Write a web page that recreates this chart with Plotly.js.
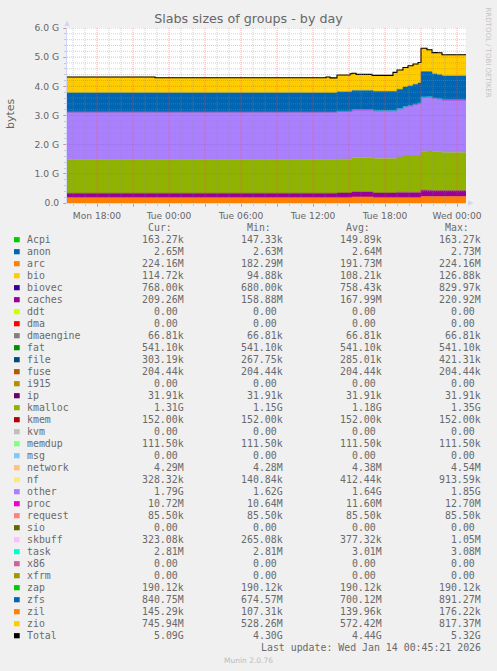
<!DOCTYPE html>
<html>
<head>
<meta charset="utf-8">
<script src="https://cdn.plot.ly/plotly-3.0.1.min.js"></script>
<style>
html,body{margin:0;padding:0;background:#F0F0F0;}
#chart{width:497px;height:671px;}
</style>
</head>
<body>
<div id="chart"></div>
<script>
// ---------- DATA (values in GiB) ----------
const times = ["2026-01-12 15:30","2026-01-12 22:50","2026-01-13 13:05","2026-01-13 13:25","2026-01-13 14:00","2026-01-13 15:05","2026-01-13 15:15","2026-01-13 15:35","2026-01-13 16:55","2026-01-13 17:00","2026-01-13 18:40","2026-01-13 19:00","2026-01-13 19:30","2026-01-13 19:55","2026-01-13 20:20","2026-01-13 20:45","2026-01-13 21:00","2026-01-13 21:30","2026-01-13 21:55","2026-01-13 22:20","2026-01-13 22:45","2026-01-14 00:45"];
const arc     = [0.178,0.178,0.178,0.178,0.178,0.178,0.210,0.210,0.210,0.178,0.178,0.178,0.178,0.178,0.178,0.178,0.219,0.219,0.219,0.219,0.219,0.219];
const caches  = [0.155,0.155,0.155,0.155,0.166,0.166,0.166,0.166,0.166,0.166,0.166,0.186,0.186,0.186,0.186,0.186,0.216,0.212,0.204,0.204,0.204,0.204];
const kmalloc = [1.15,1.15,1.15,1.15,1.16,1.16,1.18,1.18,1.18,1.18,1.18,1.21,1.25,1.25,1.25,1.25,1.34,1.35,1.34,1.34,1.31,1.31];
const other   = [1.62,1.62,1.62,1.62,1.63,1.63,1.63,1.63,1.63,1.63,1.63,1.65,1.68,1.71,1.76,1.80,1.85,1.85,1.82,1.80,1.79,1.79];
const proc    = [0.0124,0.0110,0.0105,0.0105,0.0105,0.0105,0.0105,0.0105,0.0105,0.0105,0.0105,0.0106,0.0106,0.0106,0.0106,0.0106,0.0105,0.0105,0.0105,0.0105,0.0105,0.0105];
const task    = [0.0029,0.0029,0.0029,0.0029,0.0029,0.0029,0.0029,0.0029,0.0029,0.0029,0.0029,0.0029,0.0029,0.0029,0.0029,0.0029,0.0028,0.0028,0.0028,0.0027,0.0027,0.0027];
const zfs     = [0.659,0.659,0.659,0.659,0.665,0.662,0.660,0.660,0.660,0.660,0.660,0.660,0.670,0.680,0.680,0.690,0.870,0.860,0.830,0.825,0.821,0.821];
const zio     = [0.545,0.516,0.545,0.516,0.575,0.620,0.590,0.550,0.520,0.550,0.650,0.660,0.670,0.690,0.700,0.700,0.798,0.750,0.730,0.750,0.728,0.728];

const yTickVals = [0,1,2,3,4,5,6];
const yTickText = ["0.0","1.0 G","2.0 G","3.0 G","4.0 G","5.0 G","6.0 G"];
const xTickVals = ["2026-01-12 18:00","2026-01-12 21:00","2026-01-13 00:00","2026-01-13 03:00","2026-01-13 06:00","2026-01-13 09:00","2026-01-13 12:00","2026-01-13 15:00","2026-01-13 18:00","2026-01-13 21:00","2026-01-14 00:00"];
const xTickText = ["Mon 18:00","","Tue 00:00","","Tue 06:00","","Tue 12:00","","Tue 18:00","","Wed 00:00"];

const legendNames  = ["Acpi","anon","arc","bio","biovec","caches","ddt","dma","dmaengine","fat","file","fuse","i915","ip","kmalloc","kmem","kvm","memdup","msg","network","nf","other","proc","request","sio","skbuff","task","x86","xfrm","zap","zfs","zil","zio","Total"];
const legendColors = ["#00CC00","#0066B3","#FF8000","#FFCC00","#330099","#990099","#CCFF00","#FF0000","#808080","#008F00","#00487D","#B35A00","#B38F00","#6B006B","#8FB300","#B30000","#BEBEBE","#80FF80","#80C9FF","#FFC080","#FFE680","#AA80FF","#EE00CC","#FF8080","#666600","#FFBFFF","#00FFCC","#CC6699","#999900","#00CC00","#0066B3","#FF8000","#FFCC00","#000000"];
const curVals = ["163.27k","2.65M","224.16M","114.72k","768.00k","209.26M","0.00","0.00","66.81k","541.10k","303.19k","204.44k","0.00","31.91k","1.31G","152.00k","0.00","111.50k","0.00","4.29M","328.32k","1.79G","10.72M","85.50k","0.00","323.08k","2.81M","0.00","0.00","190.12k","840.75M","145.29k","745.94M","5.09G"];
const minVals = ["147.33k","2.63M","182.29M","94.88k","680.00k","158.88M","0.00","0.00","66.81k","541.10k","267.75k","204.44k","0.00","31.91k","1.15G","152.00k","0.00","111.50k","0.00","4.28M","140.84k","1.62G","10.64M","85.50k","0.00","265.08k","2.81M","0.00","0.00","190.12k","674.57M","107.31k","528.26M","4.30G"];
const avgVals = ["149.89k","2.64M","191.73M","108.21k","758.43k","167.99M","0.00","0.00","66.81k","541.10k","285.01k","204.44k","0.00","31.91k","1.18G","152.00k","0.00","111.50k","0.00","4.38M","412.44k","1.64G","11.60M","85.50k","0.00","377.32k","3.01M","0.00","0.00","190.12k","700.12M","139.96k","572.42M","4.44G"];
const maxVals = ["163.27k","2.73M","224.16M","126.88k","829.97k","220.92M","0.00","0.00","66.81k","541.10k","421.31k","204.44k","0.00","31.91k","1.35G","152.00k","0.00","111.50k","0.00","4.54M","913.59k","1.85G","12.70M","85.50k","0.00","1.05M","3.08M","0.00","0.00","190.12k","891.27M","176.22k","817.37M","5.32G"];
const headers = ["Cur:","Min:","Avg:","Max:"];

// ---------- CHART ----------
const W = 497, Hh = 671;
const PL = 67, PR = 466, PT = 28, PB = 203;
const fx = px => (px - PL) / (PR - PL);
const fy = py => (PB - py) / (PB - PT);
const colorOf = n => legendColors[legendNames.indexOf(n)];

const stackSeries = [["arc",arc],["caches",caches],["kmalloc",kmalloc],["other",other],["proc",proc],["task",task],["zfs",zfs],["zio",zio]];
const traces = stackSeries.map(([name, vals]) => ({
  type: 'scatter', mode: 'lines', name: name, x: times, y: vals,
  stackgroup: 'one',
  line: {shape: 'hv', width: (name === 'proc' ? 1 : 0.5), color: colorOf(name)},
  fillcolor: colorOf(name), hoverinfo: 'skip'
}));
const total = times.map((_, i) => stackSeries.reduce((s, [, v]) => s + v[i], 0));
traces.push({type: 'scatter', mode: 'lines', name: 'Total', x: times, y: total,
  line: {shape: 'hv', width: 1.1, color: '#000000'}, hoverinfo: 'skip'});

const MAJ = 'rgba(222,79,79,0.45)';
const MIN = 'rgba(143,143,143,0.4)';
const TXT = '#666666';
const shapes = [];
const HOUR = 3600000;
for (let t = Date.UTC(2026,0,12,16); t <= Date.UTC(2026,0,14,0); t += HOUR) {
  const major = new Date(t).getUTCHours() % 3 === 0;
  shapes.push({type:'line', xref:'x', yref:'paper', x0:t, x1:t, y0:0, y1:1, layer:'above',
    line:{color: major ? MAJ : MIN, width:1, dash:'1px,1px'}});
}
for (let k = 1; k <= 30; k++) {
  const v = k * 0.2;
  const major = k % 5 === 0;
  shapes.push({type:'line', xref:'paper', yref:'y', x0:0, x1:1, y0:v, y1:v, layer:'above',
    line:{color: major ? MAJ : MIN, width:1, dash:'1px,1px'}});
}
// axis arrows
shapes.push({type:'path', xref:'paper', yref:'paper', layer:'above',
  path:`M ${fx(64.3)},${fy(26)} L ${fx(69.7)},${fy(26)} L ${fx(67)},${fy(20.5)} Z`,
  fillcolor:'#CFD6F8', line:{width:0}});
shapes.push({type:'path', xref:'paper', yref:'paper', layer:'above',
  path:`M ${fx(468)},${fy(200.3)} L ${fx(468)},${fy(205.7)} L ${fx(473.5)},${fy(203)} Z`,
  fillcolor:'#CFD6F8', line:{width:0}});

const annotations = [];
const mono = {family:'DejaVu Sans Mono', size:9.9, color:'#6a6a6a'};
const rowY = i => 239.7 + 12 * i;
const colRight = [185, 284, 383, 482];
headers.forEach((h, c) => annotations.push({xref:'paper', yref:'paper', x:fx(colRight[c] - 11), y:fy(rowY(-1)),
  xanchor:'right', yanchor:'middle', showarrow:false, text:h, font:mono}));
const padUnit = s => /[kMG]$/.test(s) ? s : s + '\u00a0';
legendNames.forEach((n, i) => {
  const y = fy(rowY(i));
  shapes.push({type:'rect', xref:'paper', yref:'paper', x0:fx(14), x1:fx(19.7), y0:fy(rowY(i) + 2.6), y1:fy(rowY(i) - 2.6),
    fillcolor:legendColors[i], line:{width:0}});
  annotations.push({xref:'paper', yref:'paper', x:fx(25), y:y, xanchor:'left', yanchor:'middle', showarrow:false, text:n, font:mono});
  [curVals, minVals, avgVals, maxVals].forEach((arr, c) => {
    annotations.push({xref:'paper', yref:'paper', x:fx(colRight[c] + 1), y:y, xanchor:'right', yanchor:'middle',
      showarrow:false, text:padUnit(arr[i]), font:mono});
  });
});
annotations.push({xref:'paper', yref:'paper', x:fx(483), y:fy(647.7), xanchor:'right', yanchor:'middle', showarrow:false,
  text:'Last update: Wed Jan 14 00:45:21 2026', font:mono});
annotations.push({xref:'paper', yref:'paper', x:fx(248), y:fy(660), xanchor:'center', yanchor:'middle', showarrow:false,
  text:'Munin 2.0.76', font:{family:'DejaVu Sans', size:7.5, color:'#BBBBBB'}});
annotations.push({xref:'paper', yref:'paper', x:fx(487.5), y:fy(53), xanchor:'center', yanchor:'middle', showarrow:false,
  textangle:90, text:'RRDTOOL / TOBI OETIKER', font:{family:'DejaVu Sans', size:7, color:'#C4C4C4'}});
annotations.push({xref:'paper', yref:'paper', x:fx(10), y:fy(114), xanchor:'center', yanchor:'middle', showarrow:false,
  textangle:-90, text:'bytes', font:{family:'DejaVu Sans', size:11, color:TXT}});

const layout = {
  width: W, height: Hh,
  margin: {l: PL, r: W - PR, t: PT, b: Hh - PB, pad: 0},
  paper_bgcolor: '#F0F0F0', plot_bgcolor: '#FFFFFF',
  showlegend: false,
  title: {text: 'Slabs sizes of groups - by day', x: 0.5, xref: 'container', xanchor: 'center',
    y: 1 - 18.5 / Hh, yref: 'container', yanchor: 'middle',
    font: {family: 'DejaVu Sans', size: 12.7, color: TXT}},
  xaxis: {type: 'date', range: ["2026-01-12 15:30", "2026-01-14 00:45"], fixedrange: true,
    tickmode: 'array', tickvals: xTickVals, ticktext: xTickText,
    ticks: 'outside', ticklen: 3, tickcolor: MAJ, tickwidth: 1,
    minor: {tickmode: 'linear', tick0: "2026-01-12 16:00", dtick: HOUR, ticks: 'outside', ticklen: 2, tickcolor: MIN, showgrid: false},
    showgrid: false, zeroline: false, showline: true, linecolor: '#CFD6F8', linewidth: 1,
    tickfont: {family: 'DejaVu Sans', size: 9.1, color: TXT}, ticklabelstandoff: 1},
  yaxis: {range: [0, 6], fixedrange: true, tickmode: 'array', tickvals: yTickVals, ticktext: yTickText,
    ticks: 'outside', ticklen: 3, tickcolor: MAJ, tickwidth: 1,
    minor: {tickmode: 'linear', tick0: 0, dtick: 0.2, ticks: 'outside', ticklen: 2, tickcolor: MIN, showgrid: false},
    showgrid: false, zeroline: false, showline: true, linecolor: '#CFD6F8', linewidth: 1,
    tickfont: {family: 'DejaVu Sans', size: 9.2, color: TXT}, ticklabelstandoff: 2},
  shapes: shapes,
  annotations: annotations
};
Plotly.newPlot('chart', traces, layout, {staticPlot: true, displayModeBar: false});
</script>
</body>
</html>
